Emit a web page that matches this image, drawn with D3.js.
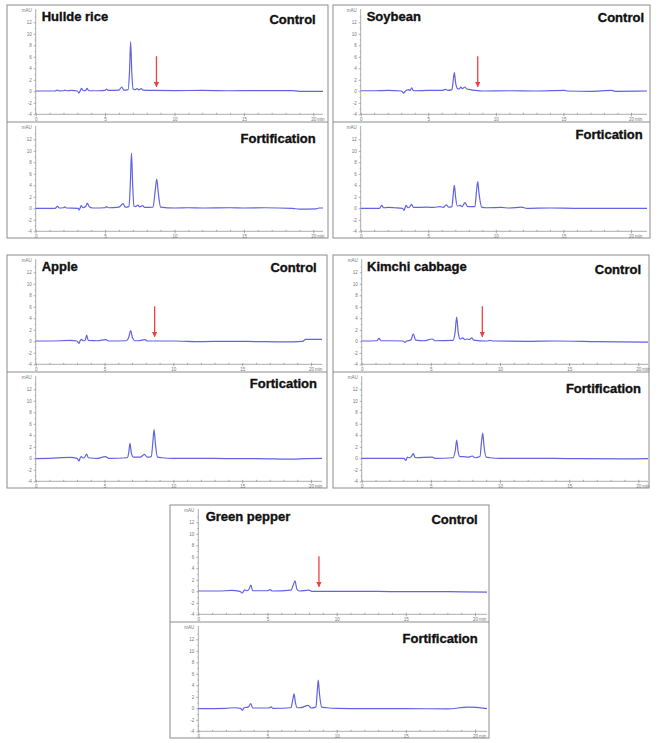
<!DOCTYPE html>
<html>
<head>
<meta charset="utf-8">
<script src="https://cdn.jsdelivr.net/npm/d3@7"></script>
<style>
  body { margin: 0; background: #fff; }
  svg { display: block; }
</style>
</head>
<body>
<script>
// sample names and the labels of each pair of runs
const samples = ["Hullde rice", "Soybean", "Apple", "Kimchi cabbage", "Green pepper"];
const controlLabels = ["Control", "Control", "Control", "Control", "Control"];
const fortLabels = ["Fortification", "Fortication", "Fortication", "Fortification", "Fortification"];
const yTicks = [-4, -2, 0, 2, 4, 6, 8, 10, 12];
const yMinor = [-3, -1, 1, 3, 5, 7, 9, 11, 13];
const xTicks = [0, 5, 10, 15, 20];
const xMinor = d3.range(0, 21, 1);
// retention time (min) marked with the red arrow, arrow from / to (mAU)
const arrowTimes = [8.7, 8.66, 8.64, 8.72, 8.72];
const arrowFrom = 6.1, arrowTo = 0.8;

// traces: [time min, mAU]
const hullControl = [[0,0.05],[1.4,0.05],[1.55,0.2],[1.7,0.08],[2.0,0.1],[2.1,0.2],[2.25,0.1],[2.6,0.15],[3.0,0.05],[3.12,-0.3],[3.2,0.05],[3.3,0.5],[3.42,0.1],[3.6,0.15],[3.7,0.5],[3.82,0.1],[4.5,0.1],[5.0,0.15],[5.1,0.4],[5.22,0.15],[6.0,0.2],[6.2,0.75],[6.35,0.2],[6.66,0.3],[6.76,3.5],[6.84,8.6],[6.92,3.5],[7.02,0.4],[7.15,0.3],[7.3,0.45],[7.42,0.25],[7.6,0.45],[7.75,0.2],[8.5,0.15],[10,0.12],[12,0.15],[14,0.1],[16,0.12],[18.5,0.12],[19.0,0.0],[21,0.0]];
const hullFort = [[0,0.0],[1.4,0.0],[1.56,0.35],[1.7,0.05],[2.0,0.1],[2.08,0.25],[2.2,0.05],[3.05,0.0],[3.12,-0.3],[3.2,0.05],[3.28,0.45],[3.4,0.1],[3.6,0.3],[3.72,0.9],[3.85,0.3],[4.1,0.05],[5.0,0.1],[5.1,0.3],[5.25,0.1],[6.0,0.2],[6.3,0.8],[6.45,0.2],[6.72,0.3],[6.82,4.5],[6.9,9.6],[6.98,4.5],[7.08,0.4],[7.2,0.3],[7.35,0.55],[7.5,0.25],[7.7,0.45],[7.85,0.15],[8.45,0.2],[8.6,2.8],[8.72,5.1],[8.84,2.5],[9.0,0.2],[10,0.05],[11,0.1],[12,0.05],[14,0.1],[15,0.05],[16.5,0.1],[18.5,0.0],[19,-0.15],[20.2,-0.1],[20.4,0.05],[21,0.05]];
const soyControl = [[0,0.1],[1,0.1],[2,0.15],[3.0,0.05],[3.2,-0.3],[3.3,0.05],[3.55,0.3],[3.65,0.15],[3.77,0.6],[3.9,0.1],[5.0,0.15],[6.0,0.15],[6.3,0.35],[6.45,0.15],[6.75,0.3],[6.85,2.0],[6.93,3.25],[7.02,1.5],[7.15,0.5],[7.3,0.4],[7.4,0.75],[7.52,0.45],[7.7,0.75],[7.85,0.4],[8.1,0.3],[8.5,0.15],[9,0.05],[11,0.1],[13,0.05],[15.1,0.15],[15.3,0.05],[17,0.0],[18.6,0.15],[18.8,0.0],[21.5,0.05]];
const soyFort = [[0,0.0],[1.4,0.0],[1.55,0.5],[1.7,0.1],[2.05,0.15],[2.5,0.1],[3.1,0.0],[3.2,-0.35],[3.28,0.05],[3.35,0.5],[3.5,0.1],[3.65,0.3],[3.77,0.7],[3.9,0.15],[4.9,0.2],[5.4,0.15],[5.87,0.3],[6.1,0.15],[6.34,0.6],[6.5,0.2],[6.75,0.3],[6.85,2.5],[6.93,4.0],[7.02,2.0],[7.15,0.4],[7.35,0.5],[7.5,0.3],[7.72,1.0],[7.9,0.3],[8.1,0.3],[8.45,0.3],[8.57,3.0],[8.66,4.65],[8.76,2.5],[8.95,0.2],[9.3,0.1],[10.4,0.15],[11,0.05],[11.9,0.2],[12.3,0.0],[14,0.05],[16,0.0],[18,0.0],[21.5,0.0]];
const appleControl = [[0,0.05],[1,0.05],[2.5,0.15],[3.0,0.05],[3.15,-0.35],[3.22,0.05],[3.3,0.35],[3.45,0.1],[3.6,0.2],[3.7,1.1],[3.82,0.15],[4.5,0.1],[5.08,0.3],[5.3,0.05],[6.6,0.1],[6.75,0.6],[6.9,1.85],[7.03,0.6],[7.2,0.1],[7.46,0.1],[7.94,0.3],[8.1,0.05],[10,0.05],[12,-0.05],[14,0.0],[16,-0.05],[18,-0.1],[19.4,0.0],[19.6,0.35],[21,0.35]];
const appleFort = [[0,-0.05],[1,0.0],[2.5,0.15],[3.0,0.0],[3.15,-0.45],[3.22,0.0],[3.3,0.3],[3.45,0.05],[3.58,0.3],[3.7,0.75],[3.82,0.1],[4.5,0.0],[5.08,0.3],[5.3,0.0],[6.65,0.1],[6.76,1.0],[6.85,2.6],[6.95,0.9],[7.1,0.2],[7.34,0.2],[7.6,0.2],[7.9,0.7],[8.1,0.2],[8.4,0.3],[8.5,2.5],[8.6,5.0],[8.7,2.4],[8.85,0.2],[9.15,0.1],[10,0.0],[12,0.0],[14,-0.05],[16,-0.05],[18.8,-0.15],[19.5,-0.05],[21,0.0]];
const kimchiControl = [[0,0.05],[1.1,0.1],[1.25,0.5],[1.4,0.1],[2.0,0.1],[3.0,0.05],[3.13,-0.2],[3.25,0.05],[3.55,0.2],[3.73,1.3],[3.9,0.2],[4.5,0.1],[5.1,0.4],[5.3,0.1],[6.6,0.15],[6.75,1.5],[6.87,4.2],[6.98,1.5],[7.12,0.4],[7.3,0.6],[7.45,0.3],[7.64,0.4],[7.8,0.3],[7.95,0.6],[8.1,0.2],[9.0,0.05],[9.3,0.15],[9.5,0.05],[12,0.0],[14,0.05],[17,-0.05],[21,-0.15]];
const kimchiFort = [[0,0.0],[2,0.0],[3.05,0.0],[3.2,-0.35],[3.3,0.2],[3.45,0.1],[3.6,0.35],[3.73,0.8],[3.87,0.1],[5.1,0.2],[5.3,0.0],[6.6,0.1],[6.77,1.4],[6.87,3.15],[6.97,1.2],[7.1,0.3],[7.35,0.3],[7.7,0.2],[8.0,0.4],[8.2,0.1],[8.55,0.3],[8.66,2.8],[8.75,4.4],[8.85,2.0],[9.0,0.2],[9.3,0.1],[10,0.0],[12,0.0],[15,-0.05],[19,-0.1],[21,-0.05]];
const pepperControl = [[0,0.05],[1.5,0.05],[2.4,0.15],[3.0,0.0],[3.18,-0.3],[3.28,0.05],[3.37,0.25],[3.5,0.1],[3.65,0.3],[3.8,1.1],[3.93,0.1],[5.0,0.1],[5.18,0.3],[5.35,0.05],[6.7,0.2],[6.85,1.0],[6.99,1.8],[7.12,0.4],[7.3,0.05],[8.0,0.2],[8.2,0.0],[10,0.0],[12,0.0],[14,-0.05],[18,-0.05],[21,-0.15]];
const pepperFort = [[0,-0.05],[2,0.0],[2.6,0.1],[3.05,0.0],[3.18,-0.35],[3.28,0.05],[3.4,0.15],[3.6,0.2],[3.8,0.8],[3.93,0.05],[5.1,0.05],[5.25,0.25],[5.4,0.0],[6.7,0.1],[6.83,1.5],[6.92,2.5],[7.02,1.0],[7.15,0.1],[7.35,0.1],[7.95,0.5],[8.15,0.05],[8.5,0.2],[8.6,3.0],[8.67,4.9],[8.76,2.5],[8.92,0.2],[9.28,0.1],[10,0.0],[12,-0.05],[15,-0.05],[18,-0.1],[19.5,0.2],[21,-0.05]];

const controls = [hullControl, soyControl, appleControl, kimchiControl, pepperControl];
const forts = [hullFort, soyFort, appleFort, kimchiFort, pepperFort];

// panel placement on the page
const layout = [
  { left: 7, top: 5, right: 328, x0: 35.7, x20: 313.3, xEnd: 323, tx: 34.7, ty: 16, cr: 315.7, cy: 19, fr: 315.7, fy: 138 },
  { left: 333, top: 5, right: 650, x0: 360.7, x20: 631, xEnd: 647, tx: 33.7, ty: 15.7, cr: 644, cy: 16.7, fr: 642.7, fy: 133.7 },
  { left: 7, top: 255, right: 327, x0: 35.7, x20: 311, xEnd: 322, tx: 34.7, ty: 15.7, cr: 316.7, cy: 17.3, fr: 317, fy: 132.7 },
  { left: 333, top: 255, right: 649, x0: 361.7, x20: 638.3, xEnd: 648, tx: 34, ty: 16, cr: 641, cy: 19.3, fr: 641, fy: 138.3 },
  { left: 170, top: 505, right: 489, x0: 198.3, x20: 475, xEnd: 487, tx: 35.7, ty: 15.7, cr: 477.7, cy: 19.3, fr: 477.7, fy: 137.7 }
];

const width = 658, height = 743;
const traceColor = "#6262e2";
const axisColor = "#8a8a8a";
const arrowColor = "#ee4040";

const svg = d3.select("body").append("svg")
  .attr("width", width)
  .attr("height", height);

svg.append("defs").append("marker")
  .attr("id", "head")
  .attr("viewBox", "0 0 10 10")
  .attr("refX", 9).attr("refY", 5)
  .attr("markerWidth", 4).attr("markerHeight", 4)
  .attr("orient", "auto")
  .append("path")
  .attr("d", "M0,0L10,5L0,10z")
  .attr("fill", arrowColor);

function drawRun(g, p, trace, off, arrowT) {
  const x = d3.scaleLinear().domain([0, 20]).range([p.x0, p.x20]);
  const tEnd = x.invert(p.xEnd);
  const y = d3.scaleLinear().domain([-4, 14]).range([p.top + off + 109.3, p.top + off + 5.8]);

  // y axis
  g.append("g")
    .attr("transform", `translate(${p.x0},0)`)
    .call(d3.axisLeft(y).tickValues(yTicks).tickSize(2).tickSizeOuter(0).tickPadding(2)
      .tickFormat(d => d))
    .call(a => a.select(".domain").attr("d", `M0,${y(-4)}V${p.top + off + 4}`));
  g.append("g")
    .attr("transform", `translate(${p.x0},0)`)
    .call(d3.axisLeft(y).tickValues(yMinor).tickSize(1).tickFormat(""))
    .call(a => a.select(".domain").remove());
  g.append("text")
    .attr("x", p.x0 - 4).attr("y", y(14) + 1.5)
    .attr("text-anchor", "end")
    .attr("class", "tick-label")
    .text("mAU");

  // x axis
  g.append("g")
    .attr("transform", `translate(0,${y(-4)})`)
    .call(d3.axisBottom(x).tickValues(xMinor).tickSizeInner(-1.5).tickSizeOuter(0).tickFormat(""))
    .call(a => a.select(".domain").attr("d", `M${p.x0},0H${p.xEnd}`));
  g.append("g")
    .attr("transform", `translate(0,${y(-4)})`)
    .call(d3.axisBottom(x).tickValues(xTicks).tickSize(2).tickPadding(1.5))
    .call(a => a.select(".domain").remove());
  g.append("text")
    .attr("x", x(20) + 4).attr("y", y(-4) + 7)
    .attr("class", "tick-label")
    .text("min");

  g.selectAll(".tick text").attr("class", "tick-label");
  g.selectAll(".tick line, .domain").attr("stroke", axisColor).attr("stroke-width", 0.7);

  const line = d3.line()
    .x(d => x(d[0]))
    .y(d => y(d[1]))
    .curve(d3.curveMonotoneX);

  g.append("path")
    .datum(trace.filter(d => d[0] <= tEnd + 0.4).map(d => [Math.min(d[0], tEnd), d[1]]))
    .attr("d", line)
    .attr("fill", "none")
    .attr("stroke", traceColor)
    .attr("stroke-width", 1.2)
    .attr("stroke-linejoin", "round");

  if (arrowT != null) {
    g.append("line")
      .attr("x1", x(arrowT)).attr("x2", x(arrowT))
      .attr("y1", y(arrowFrom)).attr("y2", y(arrowTo))
      .attr("stroke", arrowColor)
      .attr("stroke-width", 1.3)
      .attr("marker-end", "url(#head)");
  }
}

layout.forEach((p, i) => {
  const g = svg.append("g");
  const bottom = p.top + 233;

  g.append("rect")
    .attr("x", p.left).attr("y", p.top)
    .attr("width", p.right - p.left).attr("height", bottom - p.top)
    .attr("fill", "#fff")
    .attr("stroke", "#8c8c8c")
    .attr("stroke-width", 1);
  g.append("line")
    .attr("x1", p.left).attr("x2", p.right)
    .attr("y1", p.top + 117).attr("y2", p.top + 117)
    .attr("stroke", "#8c8c8c");

  drawRun(g, p, controls[i], 0, arrowTimes[i]);
  drawRun(g, p, forts[i], 117, null);

  g.append("text")
    .attr("class", "title")
    .attr("x", p.left + p.tx).attr("y", p.top + p.ty)
    .text(samples[i]);
  g.append("text")
    .attr("class", "title")
    .attr("x", p.cr).attr("y", p.top + p.cy)
    .attr("text-anchor", "end")
    .text(controlLabels[i]);
  g.append("text")
    .attr("class", "title")
    .attr("x", p.fr).attr("y", p.top + p.fy)
    .attr("text-anchor", "end")
    .text(fortLabels[i]);
});

svg.selectAll(".tick-label")
  .attr("font-family", "Liberation Sans, Arial, sans-serif")
  .attr("font-size", 4.5)
  .attr("fill", "#777");

svg.selectAll(".title")
  .attr("font-family", "Liberation Sans, Arial, sans-serif")
  .attr("font-weight", "bold")
  .attr("font-size", 13)
  .attr("fill", "#111")
  .attr("stroke", "#111")
  .attr("stroke-width", 0.35);
</script>
</body>
</html>
